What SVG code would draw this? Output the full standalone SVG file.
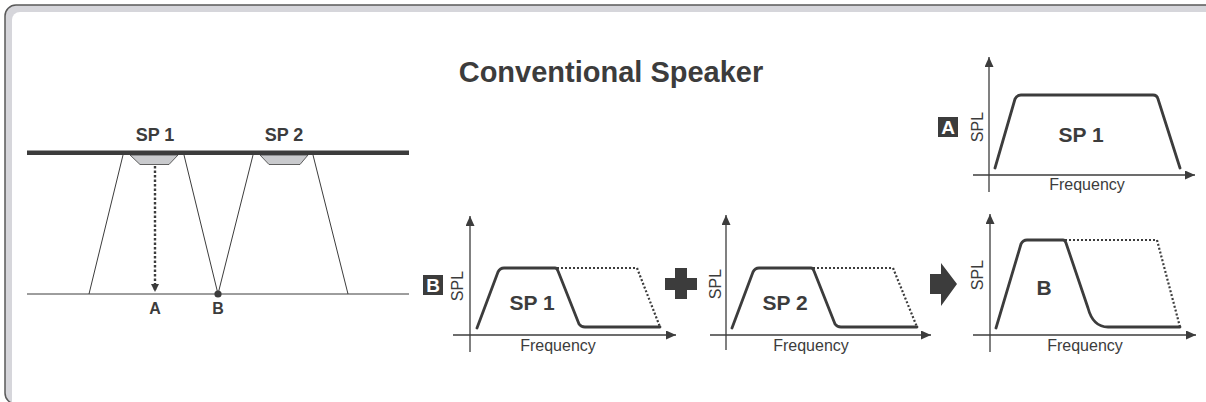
<svg xmlns="http://www.w3.org/2000/svg" width="1206" height="402" viewBox="0 0 1206 402">
<defs>
<style>
.t{font-family:"Liberation Sans",Arial,sans-serif;fill:#3c3c3c}
.b{font-weight:bold}
.axis{stroke:#3c3c3c;stroke-width:1.3;fill:none}
.curve{stroke:#3c3c3c;stroke-width:2.8;fill:none;stroke-linejoin:round;stroke-linecap:round}
.dot{stroke:#3c3c3c;stroke-width:2.2;fill:none;stroke-dasharray:2 2}
.thin{stroke:#3c3c3c;stroke-width:1;fill:none}
.box{font-family:"Liberation Sans",Arial,sans-serif;font-weight:bold;fill:#ffffff;font-size:19px}
</style>
<marker id="ah" markerUnits="userSpaceOnUse" markerWidth="10" markerHeight="9" refX="10" refY="4.5" orient="auto">
<path d="M0,0 L10,4.5 L0,9 z" fill="#3c3c3c"/>
</marker>
<marker id="ah2" markerUnits="userSpaceOnUse" markerWidth="8" markerHeight="8" refX="8" refY="4" orient="auto">
<path d="M0,0 L8,4 L0,8 z" fill="#3c3c3c"/>
</marker>
</defs>
<rect width="1206" height="402" fill="#ffffff"/>
<g id="frame">
<rect x="5" y="5" width="1260" height="399" rx="11" fill="#d6d6db"/>
<rect x="12" y="12" width="1260" height="400" rx="8" fill="#ffffff"/>
<rect x="5" y="5" width="1260" height="399" rx="11" fill="none" stroke="#5a5a5a" stroke-width="1.5"/>
</g>
<g id="title">
<text class="t b" x="611" y="82" font-size="29" text-anchor="middle">Conventional Speaker</text>
</g>
<g id="speaker-diagram">
<line x1="27" y1="152.7" x2="409" y2="152.7" stroke="#3c3c3c" stroke-width="4.6"/>
<line x1="27" y1="294" x2="409" y2="294" class="thin"/>
<path d="M130,155 L178,155 L169,164.5 L140,164.5 z" fill="#c9cacd" stroke="#3c3c3c" stroke-width="0.8"/>
<path d="M260,155 L308,155 L300,164.5 L269,164.5 z" fill="#c9cacd" stroke="#3c3c3c" stroke-width="0.8"/>
<text class="t b" x="155" y="141" font-size="18" text-anchor="middle">SP 1</text>
<text class="t b" x="284" y="141" font-size="18" text-anchor="middle">SP 2</text>
<line x1="123" y1="155" x2="89" y2="294" class="thin"/>
<line x1="184" y1="155" x2="218" y2="294" class="thin"/>
<line x1="253" y1="155" x2="218" y2="294" class="thin"/>
<line x1="313" y1="155" x2="348" y2="294" class="thin"/>
<circle cx="218" cy="294" r="3.6" fill="#3c3c3c"/>
<text class="t b" x="155" y="313.5" font-size="16" text-anchor="middle">A</text>
<text class="t b" x="218" y="313.5" font-size="16" text-anchor="middle">B</text>
</g>
<g id="connectors">
<line x1="155" y1="166" x2="155" y2="292" stroke="#3c3c3c" stroke-width="2.4" stroke-dasharray="2.5 2" marker-end="url(#ah2)"/>
</g>
<g id="chart-a">
<rect x="938" y="117" width="20" height="20" fill="#3c3c3c"/>
<text class="box" x="948" y="134" text-anchor="middle">A</text>
<line x1="989" y1="192" x2="989" y2="57" class="axis" marker-end="url(#ah)"/>
<line x1="973" y1="175" x2="1195" y2="175" class="axis" marker-end="url(#ah)"/>
<path d="M995,168 L1015,99 Q1017,95 1021,95 L1153,95 Q1157,95 1158,99 L1180,168" class="curve"/>
<text class="t b" x="1081" y="142" font-size="21" text-anchor="middle">SP 1</text>
<text class="t" transform="translate(983,127) rotate(-90)" font-size="16" text-anchor="middle">SPL</text>
<text class="t" x="1087" y="190" font-size="16" text-anchor="middle">Frequency</text>
</g>
<g id="chart-b1">
<rect x="423" y="275" width="20" height="20" fill="#3c3c3c"/>
<text class="box" x="433" y="292" text-anchor="middle">B</text>
<line x1="470" y1="352" x2="470" y2="216" class="axis" marker-end="url(#ah)"/>
<line x1="453" y1="335" x2="676" y2="335" class="axis" marker-end="url(#ah)"/>
<path d="M557,268 L637,268 L660,327" class="dot"/>
<path d="M477,328 L498,272 Q500,268 504,268 L555,268 Q557,268 558,271 L579,324 Q581,327 585,327 L660,327" class="curve"/>
<text class="t b" x="532" y="310" font-size="21" text-anchor="middle">SP 1</text>
<text class="t" transform="translate(463,286) rotate(-90)" font-size="16" text-anchor="middle">SPL</text>
<text class="t" x="558" y="351" font-size="16" text-anchor="middle">Frequency</text>
</g>
<g id="plus">
<path d="M675,268 L687,268 L687,278 L697,278 L697,290 L687,290 L687,299 L675,299 L675,290 L665,290 L665,278 L675,278 z" fill="#3c3c3c"/>
</g>
<g id="chart-b2">
<line x1="726" y1="350" x2="726" y2="215" class="axis" marker-end="url(#ah)"/>
<line x1="710" y1="335" x2="931" y2="335" class="axis" marker-end="url(#ah)"/>
<path d="M813,268 L893,268 L917,327" class="dot"/>
<path d="M732,328 L753,272 Q755,268 759,268 L811,268 Q813,268 814,271 L835,324 Q837,327 841,327 L917,327" class="curve"/>
<text class="t b" x="785" y="310" font-size="21" text-anchor="middle">SP 2</text>
<text class="t" transform="translate(721,284) rotate(-90)" font-size="16" text-anchor="middle">SPL</text>
<text class="t" x="811" y="351" font-size="16" text-anchor="middle">Frequency</text>
</g>
<g id="arrow">
<path d="M930,274 L941,274 L941,263 L957,284 L941,306 L941,294 L930,294 z" fill="#3c3c3c"/>
</g>
<g id="chart-b3">
<line x1="990" y1="352" x2="990" y2="214" class="axis" marker-end="url(#ah)"/>
<line x1="973" y1="335" x2="1196" y2="335" class="axis" marker-end="url(#ah)"/>
<path d="M1065,240 L1157,240 L1180,327" class="dot"/>
<path d="M996,328 L1021,244 Q1023,240 1027,240 L1063,240 Q1065,240 1066,243 L1088,308 Q1093,327 1108,327 L1180,327" class="curve"/>
<text class="t b" x="1044" y="295" font-size="21" text-anchor="middle">B</text>
<text class="t" transform="translate(983,275) rotate(-90)" font-size="16" text-anchor="middle">SPL</text>
<text class="t" x="1085" y="351" font-size="16" text-anchor="middle">Frequency</text>
</g>
</svg>
